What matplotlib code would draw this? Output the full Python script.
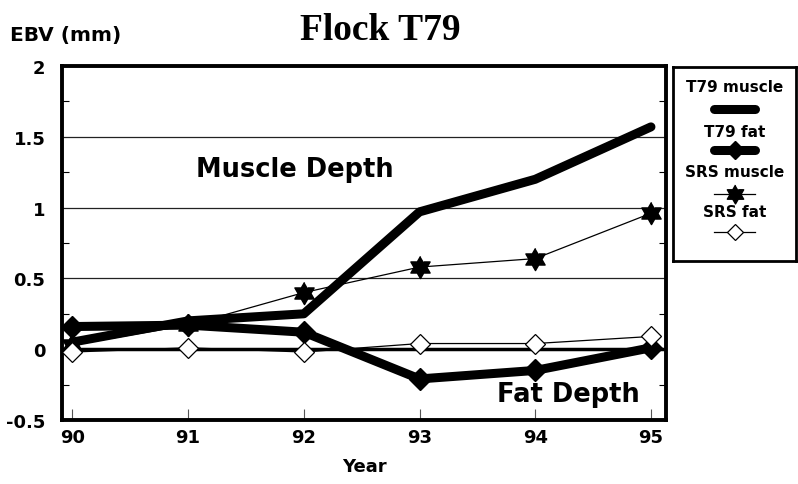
import matplotlib.pyplot as plt
import numpy as np

# data
years = [90, 91, 92, 93, 94, 95]
t79_muscle = [0.05, 0.20, 0.25, 0.97, 1.20, 1.57]
t79_fat = [0.16, 0.17, 0.12, -0.21, -0.15, 0.01]
srs_muscle = [0.03, 0.17, 0.40, 0.58, 0.64, 0.96]
srs_fat = [-0.02, 0.01, -0.02, 0.04, 0.04, 0.09]

labels = ['T79 muscle', 'T79 fat', 'SRS muscle', 'SRS fat']
yticks = [-0.5, 0, 0.5, 1, 1.5, 2]
ytick_labels = ['-0.5', '0', '0.5', '1', '1.5', '2']

plt.rcParams['font.family'] = ['DejaVu Sans']
plt.rcParams['font.weight'] = 'bold'

# six pointed star (two overlapping triangles)
ang = np.pi / 2 + np.arange(12) * np.pi / 6
rad = np.where(np.arange(12) % 2 == 0, 1.0, 0.577)
hexagram = list(zip(rad * np.cos(ang), rad * np.sin(ang)))

styles = [
    dict(color='black', lw=6.5, solid_capstyle='round', solid_joinstyle='round'),
    dict(color='black', lw=6.5, marker='D', ms=11, solid_capstyle='round', solid_joinstyle='round'),
    dict(color='black', lw=0.9, marker=hexagram, ms=16),
    dict(color='black', lw=0.9, marker='D', ms=10, mfc='white', mec='black', mew=0.9),
]

fig = plt.figure(figsize=(7.98, 4.85), dpi=100)
ax = fig.add_axes([62/798, 1 - 421/485, 604/798, 354/485])

# grid lines
for g in [0.5, 1, 1.5]:
    ax.axhline(g, color='#222222', lw=0.9, zorder=1)
ax.axhline(0, color='black', lw=2.5, zorder=1)

series = [t79_muscle, t79_fat, srs_muscle, srs_fat]
for i in [3, 2, 1, 0]:
    ax.plot(years, series[i], zorder=3 + i * 0.1, **styles[i])

ax.set_xlim(89.91, 95.13)
ax.set_ylim(-0.5, 2)
ax.set_xticks(years)
ax.set_xticklabels([str(y) for y in years], fontsize=13, fontweight='bold')
ax.set_yticks(yticks)
ax.set_yticklabels(ytick_labels, fontsize=13, fontweight='bold')
ax.set_yticks(np.arange(-0.25, 2, 0.5), minor=True)
ax.tick_params(axis='x', direction='in', length=8, width=0.8, color='#555555', pad=6, top=False)
ax.tick_params(axis='y', which='major', direction='in', length=0, pad=12)
ax.tick_params(axis='y', which='minor', direction='in', length=5, width=0.8, right=True)
for sp in ax.spines.values():
    sp.set_linewidth(2.8)

ax.set_xlabel('Year', fontsize=13, fontweight='bold', labelpad=8)

ax.text(0.386, 0.709, 'Muscle Depth', transform=ax.transAxes, fontsize=18.5,
        fontweight='bold', ha='center', va='center')
ax.text(0.839, 0.073, 'Fat Depth', transform=ax.transAxes, fontsize=18.5,
        fontweight='bold', ha='center', va='center')

fig.text(380/798, 1 - 31/485, 'Flock T79', family=['Liberation Serif', 'DejaVu Serif'],
         fontsize=27, fontweight='bold', ha='center', va='center')
fig.text(10/798, 1 - 36/485, 'EBV (mm)', fontsize=14.5, fontweight='bold',
         ha='left', va='center')

# hand-made legend: label above a line sample
lax = fig.add_axes([673/798, 1 - 262/485, 123/798, 194/485])
lax.set_xlim(0, 1)
lax.set_ylim(0, 1)
lax.set_xticks([])
lax.set_yticks([])
for sp in lax.spines.values():
    sp.set_linewidth(2)
label_y = [0.897, 0.670, 0.459, 0.253]
sample_y = [0.784, 0.572, 0.345, 0.149]
for lab, st, ytxt, ysmp in zip(labels, styles, label_y, sample_y):
    lax.text(0.5, ytxt, lab, fontsize=11, fontweight='bold', ha='center', va='center')
    st2 = dict(st)
    if 'ms' in st2:
        st2['ms'] = st2['ms'] * 0.85
    lax.plot([0.33, 0.5, 0.67], [ysmp, ysmp, ysmp], markevery=[1], **st2)

fig.savefig('out.png', dpi=100)
